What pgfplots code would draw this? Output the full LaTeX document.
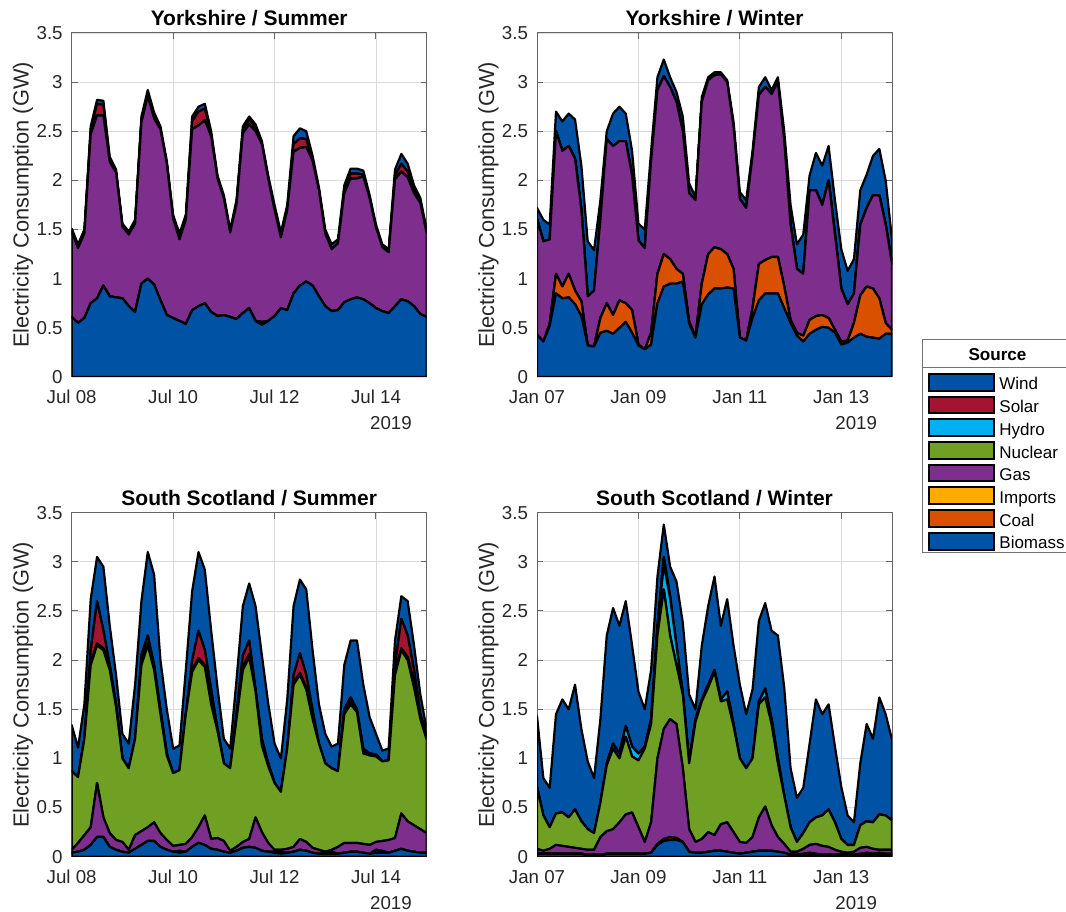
\documentclass[border=0pt]{standalone}
\usepackage{fontspec}
\setmainfont{Liberation Sans}
\usepackage{pgfplots}
\usepackage{pgfplotstable}
\pgfplotsset{compat=1.18}

\definecolor{cwind}{HTML}{0052A5}
\definecolor{csolar}{HTML}{A2142F}
\definecolor{chydro}{HTML}{00B0F0}
\definecolor{cnuc}{HTML}{6FA024}
\definecolor{cgas}{HTML}{7E2F8E}
\definecolor{cimp}{HTML}{FFAA00}
\definecolor{ccoal}{HTML}{D95000}
\definecolor{cbio}{HTML}{0052A5}

% Yorkshire / Summer
\pgfplotstableread{
t bio coal imp gas nuc hyd sol wind
0 0.61 0 0 0.87 0 0 0 0.03
0.125 0.55 0 0 0.76 0 0 0 0.04
0.25 0.60 0 0 0.86 0 0 0 0.04
0.375 0.75 0 0 1.72 0 0 0.05 0.03
0.5 0.80 0 0 1.86 0 0 0.12 0.04
0.625 0.93 0 0 1.73 0 0 0.11 0.04
0.75 0.82 0 0 1.37 0 0 0.02 0.03
0.875 0.81 0 0 1.27 0 0 0 0.03
1 0.80 0 0 0.73 0 0 0 0.03
1.125 0.72 0 0 0.73 0 0 0 0.03
1.25 0.66 0 0 0.90 0 0 0.01 0.03
1.375 0.95 0 0 1.64 0 0 0.03 0.03
1.5 1.00 0 0 1.86 0 0 0.03 0.03
1.625 0.94 0 0 1.69 0 0 0.02 0.04
1.75 0.78 0 0 1.74 0 0 0 0.03
1.875 0.63 0 0 1.54 0 0 0 0.03
2 0.60 0 0 1.01 0 0 0 0.04
2.125 0.57 0 0 0.83 0 0 0 0.06
2.25 0.54 0 0 1.06 0 0 0.01 0.04
2.375 0.68 0 0 1.84 0 0 0.08 0.05
2.5 0.72 0 0 1.84 0 0 0.14 0.05
2.625 0.75 0 0 1.86 0 0 0.12 0.05
2.75 0.66 0 0 1.79 0 0 0.02 0.03
2.875 0.62 0 0 1.40 0 0 0 0.03
3 0.63 0 0 1.19 0 0 0 0.03
3.125 0.61 0 0 0.86 0 0 0 0.03
3.25 0.59 0 0 1.17 0 0 0.01 0.03
3.375 0.65 0 0 1.83 0 0 0.04 0.03
3.5 0.70 0 0 1.87 0 0 0.05 0.03
3.625 0.57 0 0 1.93 0 0 0.04 0.03
3.75 0.53 0.03 0 1.81 0 0 0 0.03
3.875 0.57 0 0 1.45 0 0 0 0.03
4 0.62 0 0 1.08 0 0 0 0.05
4.125 0.70 0 0 0.72 0 0 0 0.05
4.25 0.68 0 0 1.02 0 0 0.01 0.04
4.375 0.85 0 0 1.44 0 0 0.08 0.08
4.5 0.93 0 0 1.40 0 0 0.10 0.10
4.625 0.97 0 0 1.37 0 0 0.08 0.08
4.75 0.93 0 0 1.27 0 0 0.01 0.04
4.875 0.82 0 0 1.08 0 0 0 0.03
5 0.72 0 0 0.74 0 0 0 0.04
5.125 0.67 0 0 0.63 0 0 0 0.05
5.25 0.68 0 0 0.68 0 0 0 0.04
5.375 0.76 0 0 1.11 0 0 0.03 0.05
5.5 0.79 0 0 1.23 0 0 0.05 0.05
5.625 0.81 0 0 1.21 0 0 0.05 0.05
5.75 0.79 0 0 1.25 0 0 0.02 0.04
5.875 0.75 0 0 1.07 0 0 0 0.03
6 0.70 0 0 0.82 0 0 0 0.03
6.125 0.67 0 0 0.65 0 0 0 0.03
6.25 0.65 0 0 0.62 0 0 0 0.03
6.375 0.72 0 0 1.29 0 0 0.04 0.06
6.5 0.79 0 0 1.30 0 0 0.08 0.10
6.625 0.77 0 0 1.26 0 0 0.06 0.08
6.75 0.72 0 0 1.15 0 0 0.02 0.06
6.875 0.64 0 0 1.13 0 0 0 0.05
7 0.61 0 0 0.85 0 0 0 0.04
}\tTL

% Yorkshire / Winter
\pgfplotstableread{
t bio coal imp gas nuc hyd sol wind
0 0.43 0 0 1.18 0 0 0 0.11
0.125 0.36 0 0 1.02 0 0 0 0.22
0.25 0.52 0.02 0 0.86 0 0 0 0.15
0.375 0.85 0.20 0 1.45 0 0 0 0.20
0.5 0.80 0.12 0 1.38 0 0 0 0.30
0.625 0.81 0.24 0 1.30 0 0 0 0.33
0.75 0.74 0.14 0 1.34 0 0 0 0.40
0.875 0.62 0.15 0 0.93 0 0 0 0.45
1 0.32 0 0 0.50 0 0 0 0.56
1.125 0.31 0 0 0.57 0 0 0 0.41
1.25 0.45 0.15 0 1.00 0 0 0 0.20
1.375 0.47 0.28 0 1.67 0 0 0 0.08
1.5 0.44 0.19 0 1.72 0 0 0 0.33
1.625 0.50 0.28 0 1.62 0 0 0 0.35
1.75 0.56 0.19 0 1.65 0 0 0 0.28
1.875 0.45 0.23 0 1.37 0 0 0 0.25
2 0.32 0.01 0 1.06 0 0 0 0.17
2.125 0.28 0 0 1.03 0 0 0 0.19
2.25 0.33 0.12 0 1.75 0 0 0 0.10
2.375 0.75 0.30 0 1.87 0 0 0 0.13
2.5 0.92 0.33 0 1.81 0 0 0 0.17
2.625 0.95 0.25 0 1.75 0 0 0 0.10
2.75 0.95 0.15 0 1.70 0 0 0 0.10
2.875 0.97 0.08 0 1.45 0 0 0 0.15
3 0.54 0.02 0 1.31 0 0 0 0.10
3.125 0.40 0.01 0 1.39 0 0 0 0.03
3.25 0.74 0.21 0 1.85 0 0 0 0.05
3.375 0.84 0.41 0 1.77 0 0 0 0.03
3.5 0.90 0.42 0 1.75 0 0 0 0.03
3.625 0.90 0.40 0 1.78 0 0 0 0.02
3.75 0.91 0.34 0 1.75 0 0 0 0.02
3.875 0.90 0.20 0 1.45 0 0 0 0.05
4 0.40 0 0 1.41 0 0 0 0.07
4.125 0.37 0 0 1.35 0 0 0 0.08
4.25 0.60 0.10 0 1.55 0 0 0 0.05
4.375 0.78 0.37 0 1.72 0 0 0 0.08
4.5 0.85 0.34 0 1.76 0 0 0 0.10
4.625 0.85 0.37 0 1.66 0 0 0 0.04
4.75 0.85 0.37 0 1.78 0 0 0 0.05
4.875 0.70 0.22 0 1.48 0 0 0 0.10
5 0.55 0.03 0 0.97 0 0 0 0.20
5.125 0.42 0.03 0 0.65 0 0 0 0.25
5.25 0.36 0.06 0 0.63 0 0 0 0.40
5.375 0.44 0.14 0 1.32 0 0 0 0.15
5.5 0.48 0.14 0 1.28 0 0 0 0.38
5.625 0.51 0.12 0 1.12 0 0 0 0.40
5.75 0.50 0.10 0 1.40 0 0 0 0.35
5.875 0.45 0.03 0 0.97 0 0 0 0.35
6 0.33 0.03 0 0.54 0 0 0 0.40
6.125 0.35 0.02 0 0.37 0 0 0 0.34
6.25 0.40 0.15 0 0.30 0 0 0 0.35
6.375 0.44 0.39 0 0.72 0 0 0 0.35
6.5 0.41 0.51 0 0.80 0 0 0 0.34
6.625 0.40 0.50 0 0.95 0 0 0 0.40
6.75 0.39 0.41 0 1.05 0 0 0 0.47
6.875 0.44 0.11 0 1.00 0 0 0 0.45
7 0.44 0.04 0 0.67 0 0 0 0.25
}\tTR

% South Scotland / Summer
\pgfplotstableread{
t bio coal imp gas nuc hyd sol wind
0 0.04 0 0 0.03 0.80 0 0 0.47
0.125 0.05 0 0 0.09 0.67 0 0 0.30
0.25 0.07 0 0 0.15 0.98 0 0 0.35
0.375 0.12 0 0 0.18 1.65 0.02 0.13 0.52
0.5 0.20 0 0 0.55 1.40 0.02 0.43 0.45
0.625 0.20 0 0 0.20 1.70 0.02 0.18 0.65
0.75 0.10 0 0 0.14 1.66 0.04 0.01 0.40
0.875 0.07 0 0 0.10 1.35 0.03 0 0.30
1 0.05 0 0 0.10 0.85 0 0 0.25
1.125 0.04 0 0 0.03 0.83 0 0 0.25
1.25 0.08 0 0 0.14 0.98 0 0 0.55
1.375 0.12 0 0 0.14 1.69 0.02 0.08 0.55
1.5 0.16 0 0 0.14 1.85 0.02 0.08 0.85
1.625 0.16 0 0 0.19 1.55 0.02 0.03 0.92
1.75 0.10 0 0 0.14 1.21 0.03 0.02 0.50
1.875 0.07 0 0 0.10 0.86 0.02 0 0.45
2 0.05 0 0 0.06 0.74 0 0 0.25
2.125 0.04 0 0.02 0.06 0.76 0 0 0.25
2.25 0.05 0 0 0.08 1.32 0 0 0.45
2.375 0.10 0 0 0.10 1.68 0.02 0.10 0.70
2.5 0.14 0 0 0.16 1.70 0.02 0.28 0.80
2.625 0.12 0 0 0.30 1.51 0.02 0.15 0.82
2.75 0.08 0 0 0.10 1.37 0.03 0.12 0.60
2.875 0.07 0 0 0.12 1.09 0.02 0 0.42
3 0.05 0 0 0.11 0.79 0 0 0.25
3.125 0.04 0 0 0.02 0.84 0 0 0.20
3.25 0.06 0 0 0.04 1.30 0.02 0.03 0.35
3.375 0.09 0 0 0.06 1.75 0.03 0.12 0.50
3.5 0.10 0 0 0.08 1.85 0.03 0.14 0.58
3.625 0.09 0 0 0.31 1.28 0.02 0 0.85
3.75 0.06 0 0 0.19 0.88 0.04 0.03 0.85
3.875 0.05 0 0 0.09 0.78 0.03 0 0.61
4 0.04 0 0.01 0.02 0.68 0 0 0.40
4.125 0.03 0 0.02 0.02 0.59 0 0 0.34
4.25 0.04 0 0 0.04 1.02 0 0 0.50
4.375 0.05 0 0 0.05 1.65 0.02 0.08 0.70
4.5 0.07 0 0 0.11 1.67 0.02 0.20 0.75
4.625 0.06 0 0 0.09 1.55 0.02 0.13 0.87
4.75 0.04 0 0 0.05 1.31 0.02 0.07 0.61
4.875 0.03 0 0 0.04 1.08 0 0 0.40
5 0.03 0 0 0.02 0.90 0 0 0.30
5.125 0.03 0 0.02 0.02 0.83 0 0 0.22
5.25 0.03 0 0 0.07 0.77 0 0 0.28
5.375 0.04 0 0 0.10 1.31 0.02 0.03 0.45
5.5 0.05 0 0 0.09 1.41 0.02 0.05 0.58
5.625 0.05 0 0 0.09 1.33 0.01 0.02 0.70
5.75 0.04 0 0 0.09 0.92 0.03 0.02 0.65
5.875 0.03 0 0 0.09 0.91 0.02 0 0.37
6 0.04 0 0.03 0.08 0.87 0.02 0 0.21
6.125 0.04 0 0.02 0.10 0.81 0 0 0.11
6.25 0.04 0 0 0.13 0.81 0 0 0.12
6.375 0.06 0 0 0.13 1.66 0.02 0.08 0.25
6.5 0.08 0 0 0.36 1.66 0.02 0.30 0.23
6.625 0.06 0 0 0.30 1.64 0.03 0.22 0.35
6.75 0.05 0 0 0.27 1.40 0.05 0.13 0.25
6.875 0.04 0 0 0.24 1.12 0.04 0.01 0.20
7 0.04 0 0 0.20 0.95 0.03 0 0.07
}\tBL

% South Scotland / Winter
\pgfplotstableread{
t bio coal imp gas nuc hyd sol wind
0 0.03 0 0 0.05 0.63 0 0 0.72
0.125 0.03 0 0 0.03 0.36 0 0 0.38
0.25 0.03 0 0 0.05 0.22 0 0 0.40
0.375 0.03 0 0 0.09 0.32 0 0 1.01
0.5 0.03 0 0 0.08 0.34 0 0 1.15
0.625 0.03 0 0 0.07 0.30 0 0 1.10
0.75 0.03 0 0 0.06 0.39 0 0 1.27
0.875 0.03 0 0 0.05 0.28 0 0 0.94
1 0.02 0 0 0.05 0.21 0 0 0.69
1.125 0.02 0 0 0.05 0.17 0 0 0.56
1.25 0.02 0 0 0.18 0.35 0 0 0.85
1.375 0.03 0 0 0.23 0.67 0.02 0 1.30
1.5 0.03 0 0 0.25 0.82 0.05 0 1.38
1.625 0.03 0 0 0.32 0.65 0.05 0 1.30
1.75 0.03 0 0 0.40 0.79 0.11 0 1.27
1.875 0.03 0 0 0.42 0.57 0.10 0 1.03
2 0.03 0 0 0.27 0.68 0.07 0 0.63
2.125 0.03 0 0 0.12 0.95 0.02 0 0.38
2.25 0.04 0 0 0.31 1.00 0.05 0 0.50
2.375 0.12 0.01 0 0.87 1.25 0.08 0.02 0.50
2.5 0.16 0.02 0 1.12 1.42 0.25 0.08 0.33
2.625 0.17 0.03 0 1.20 0.85 0.38 0.02 0.30
2.75 0.17 0.02 0 1.16 0.60 0.20 0 0.65
2.875 0.15 0 0 0.75 0.75 0.01 0 0.72
3 0.05 0 0 0.23 0.67 0.02 0 0.68
3.125 0.04 0 0 0.11 1.22 0.03 0 0.10
3.25 0.04 0 0 0.14 1.40 0.02 0 0.55
3.375 0.05 0 0 0.20 1.47 0.03 0 0.80
3.5 0.06 0 0 0.16 1.66 0.02 0 0.95
3.625 0.06 0 0 0.27 1.25 0.02 0 0.75
3.75 0.05 0 0 0.30 1.25 0.08 0 0.94
3.875 0.04 0 0 0.21 1.08 0.02 0 0.80
4 0.03 0 0 0.12 0.85 0 0 0.75
4.125 0.04 0 0 0.10 0.76 0 0 0.55
4.25 0.05 0 0 0.15 0.80 0 0 0.70
4.375 0.06 0 0 0.34 1.15 0.03 0 0.82
4.5 0.06 0 0 0.45 1.11 0.09 0 0.87
4.625 0.06 0 0 0.26 1.03 0.05 0 0.90
4.75 0.05 0 0 0.15 0.75 0.05 0 1.25
4.875 0.04 0 0 0.09 0.49 0 0 1.10
5 0.02 0 0 0.03 0.25 0 0 0.60
5.125 0.02 0 0 0.03 0.10 0 0 0.45
5.25 0.02 0 0.01 0.05 0.16 0 0 0.46
5.375 0.02 0 0.02 0.08 0.23 0 0 0.80
5.5 0.02 0 0.01 0.10 0.27 0 0 1.20
5.625 0.02 0 0 0.09 0.31 0 0 1.03
5.75 0.02 0 0 0.08 0.38 0 0 1.07
5.875 0.02 0 0 0.05 0.28 0 0 0.77
6 0.02 0 0 0.03 0.13 0 0 0.53
6.125 0.02 0 0 0.02 0.08 0 0 0.30
6.25 0.02 0 0 0.03 0.07 0 0 0.23
6.375 0.02 0 0.01 0.06 0.23 0 0 0.63
6.5 0.02 0 0.02 0.06 0.26 0 0 0.99
6.625 0.02 0 0.01 0.05 0.27 0 0 0.85
6.75 0.02 0 0.02 0.03 0.36 0 0 1.19
6.875 0.02 0 0.01 0.04 0.35 0 0 1.03
7 0.02 0 0.01 0.04 0.30 0 0 0.82
}\tBR

\pgfplotsset{
  panel/.style={
    scale only axis, width=177.5pt, height=172pt,
    xmin=0, xmax=7, ymin=0, ymax=3.5,
    stack plots=y, no markers, clip mode=individual,
    xtick={0,2,4,6},
    ytick={0,0.5,1,1.5,2,2.5,3,3.5},
    yticklabels={0,0.5,1,1.5,2,2.5,3,3.5},
    grid=major, grid style={line width=0.4pt, black!14},
    axis line style={line width=0.5pt, black!60},
    tick style={line width=0.5pt, black!60},
    tick align=inside, major tick length=3pt,
    ticklabel style={font=\fontsize{9.35}{11}\selectfont, text=black!85},
    xticklabel style={anchor=base, yshift=-13.5pt},
    yticklabel style={xshift=-1pt},
    every axis y label/.style={at={(axis description cs:-0.137,0.5)}, rotate=90, anchor=center, font=\fontsize{10.9}{12}\selectfont, text=black!85},
    ylabel={Electricity Consumption (GW)},
    every axis title/.style={at={(axis description cs:0.5,1)}, anchor=base, yshift=3.6pt, font=\bfseries\fontsize{10.5}{12}\selectfont},
  },
  src/.style={fill=#1, draw=black, line width=1.1pt, line join=round},
}

\newcommand{\stackall}[1]{%
  \addplot[src=cbio] table[x=t,y=bio]{#1} \closedcycle;
  \addplot[src=ccoal] table[x=t,y=coal]{#1} \closedcycle;
  \addplot[src=cimp] table[x=t,y=imp]{#1} \closedcycle;
  \addplot[src=cgas] table[x=t,y=gas]{#1} \closedcycle;
  \addplot[src=cnuc] table[x=t,y=nuc]{#1} \closedcycle;
  \addplot[src=chydro] table[x=t,y=hyd]{#1} \closedcycle;
  \addplot[src=csolar] table[x=t,y=sol]{#1} \closedcycle;
  \addplot[src=cwind] table[x=t,y=wind]{#1} \closedcycle;
}
\newcommand{\yearlabel}{\node[anchor=base east, inner sep=0pt, font=\fontsize{9.35}{11}\selectfont, text=black!85] at (axis description cs:0.959,-0.154) {2019};}

\begin{document}
\begin{tikzpicture}
\useasboundingbox (0,0) rectangle (533pt,455.5pt);

\begin{axis}[panel, at={(35.85pt,267pt)}, anchor=south west,
  title={Yorkshire / Summer}, xticklabels={Jul 08,Jul 10,Jul 12,Jul 14}]
\stackall{\tTL}
\yearlabel
\end{axis}

\begin{axis}[panel, at={(268.5pt,267pt)}, anchor=south west,
  title={Yorkshire / Winter}, xticklabels={Jan 07,Jan 09,Jan 11,Jan 13}]
\stackall{\tTR}
\yearlabel
\end{axis}

\begin{axis}[panel, at={(35.85pt,27.15pt)}, anchor=south west,
  title={South Scotland / Summer}, xticklabels={Jul 08,Jul 10,Jul 12,Jul 14}]
\stackall{\tBL}
\yearlabel
\end{axis}

\begin{axis}[panel, at={(268.5pt,27.15pt)}, anchor=south west,
  title={South Scotland / Winter}, xticklabels={Jan 07,Jan 09,Jan 11,Jan 13}]
\stackall{\tBR}
\yearlabel
\end{axis}

% legend
\draw[black!55, line width=0.5pt, fill=white] (461.35pt,179pt) rectangle (545pt,285.5pt);
\draw[black!55, line width=0.5pt] (461.35pt,271.5pt) -- (545pt,271.5pt);
\node[anchor=base, inner sep=0pt, font=\bfseries\fontsize{8.55}{10}\selectfont] at (498.75pt,275.15pt) {Source};
\foreach \c/\n [count=\i from 0] in {cwind/Wind,csolar/Solar,chydro/Hydro,cnuc/Nuclear,cgas/Gas,cimp/Imports,ccoal/Coal,cbio/Biomass}{
  \draw[fill=\c, draw=black, line width=1pt] (464.5pt,{264.35pt-11.35pt*\i-4.17pt}) rectangle (497pt,{264.35pt-11.35pt*\i+4.17pt});
  \node[anchor=base west, inner sep=0pt, font=\fontsize{8.5}{10}\selectfont] at (499.5pt,{260.5pt-11.35pt*\i}) {\n};
}
\end{tikzpicture}
\end{document}
